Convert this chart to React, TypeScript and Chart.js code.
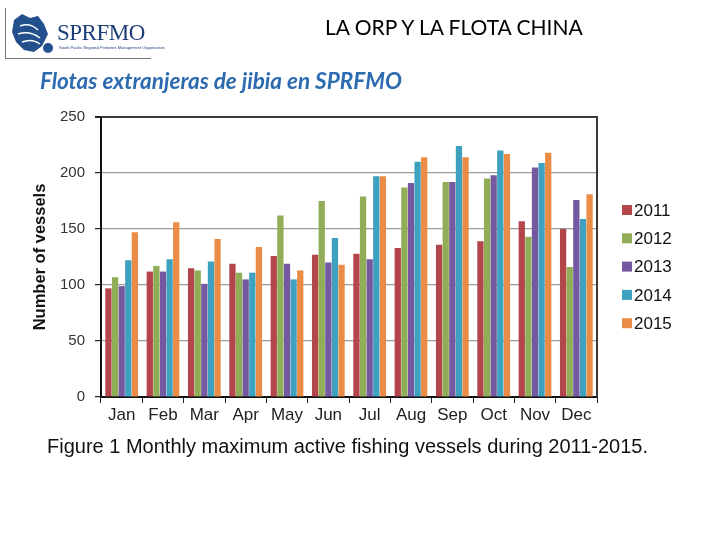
import React, { useEffect, useRef } from "react";
import { Chart, registerables } from "chart.js";
Chart.register(...registerables);

const months = ["Jan", "Feb", "Mar", "Apr", "May", "Jun", "Jul", "Aug", "Sep", "Oct", "Nov", "Dec"];
const years = ["2011", "2012", "2013", "2014", "2015"];
const v2011 = [97, 112, 115, 119, 126, 127, 128, 133, 136, 139, 157, 150];
const v2012 = [107, 117, 113, 111, 162, 175, 179, 187, 192, 195, 143, 116];
const v2013 = [99, 112, 101, 105, 119, 120, 123, 191, 192, 198, 205, 176];
const v2014 = [122, 123, 121, 111, 105, 142, 197, 210, 224, 220, 209, 159];
const v2015 = [147, 156, 141, 134, 113, 118, 197, 214, 214, 217, 218, 181];
const seriesValues = [v2011, v2012, v2013, v2014, v2015];
const seriesColors = ["#B2464A", "#92AD57", "#7559A0", "#3FA1C0", "#EA8C45"];
const yMin = 0;
const yMax = 250;
const yStep = 50;

const FONT = "'Liberation Sans', Arial, sans-serif";

const boxLegendPlugin = {
  id: "boxLegend",
  afterDraw(chart: any) {
    const { ctx, chartArea: a } = chart;
    ctx.save();
    ctx.strokeStyle = "#3a3a3a";
    ctx.lineWidth = 2;
    ctx.beginPath();
    ctx.moveTo(a.left, a.top);
    ctx.lineTo(a.right, a.top);
    ctx.lineTo(a.right, a.bottom);
    ctx.stroke();
    chart.data.datasets.forEach((ds: any, i: number) => {
      const y = 210 + i * 28.3;
      ctx.fillStyle = ds.backgroundColor;
      ctx.fillRect(622, y - 5, 10, 10);
      ctx.fillStyle = "#111";
      ctx.font = "17px " + FONT;
      ctx.textBaseline = "middle";
      ctx.textAlign = "left";
      ctx.fillText(ds.label, 634, y + 1);
    });
    ctx.restore();
  },
};

export default function App() {
  const ref = useRef<HTMLCanvasElement | null>(null);
  useEffect(() => {
    if (!ref.current) return;
    const chart = new Chart(ref.current, {
      type: "bar",
      data: {
        labels: months,
        datasets: years.map((y, i) => ({
          label: y,
          data: seriesValues[i],
          backgroundColor: seriesColors[i],
          borderWidth: 0,
          barPercentage: 0.95,
          categoryPercentage: 0.8,
        })),
      },
      options: {
        responsive: false,
        animation: false,
        layout: { padding: { top: 117, right: 123, left: 0, bottom: 0 } },
        plugins: { legend: { display: false }, tooltip: { enabled: false } },
        scales: {
          x: {
            afterFit: (s: any) => {
              s.height = 143;
            },
            grid: { drawOnChartArea: false, drawTicks: true, tickLength: 6, tickColor: "#222", offset: true },
            border: { color: "#111", width: 2 },
            ticks: { color: "#222", font: { family: FONT, size: 17 }, padding: 2, maxRotation: 0 },
          },
          y: {
            min: yMin,
            max: yMax,
            afterFit: (s: any) => {
              s.width = 101;
            },
            grid: {
              color: (c: any) => (c.tick && c.tick.value === yMax ? "#3a3a3a" : "#9a9a9a"),
              lineWidth: (c: any) => (c.tick && c.tick.value === yMax ? 2 : 1.2),
              tickLength: 6,
              tickColor: "#222",
            },
            border: { color: "#111", width: 2 },
            ticks: { stepSize: yStep, color: "#333", font: { family: FONT, size: 15 }, padding: 10 },
            title: {
              display: true,
              text: "Number of vessels",
              color: "#111",
              font: { family: FONT, size: 16.5, weight: "bold" },
              padding: { top: 31, bottom: 0 },
            },
          },
        },
      },
      plugins: [boxLegendPlugin],
    });
    return () => chart.destroy();
  }, []);

  return (
    <div style={{ position: "fixed", left: 0, top: 0, width: 720, height: 540, background: "#fff", overflow: "hidden" }}>
      <canvas ref={ref} width={720} height={540} style={{ position: "absolute", left: 0, top: 0 }} />
      <div
        style={{
          position: "absolute",
          left: 5,
          top: 8,
          width: 145,
          height: 50,
          borderLeft: "1px solid #777",
          borderBottom: "1px solid #777",
        }}
      >
        <svg width="46" height="44" style={{ position: "absolute", left: 2, top: 4 }} viewBox="0 0 46 44">
          <path d="M6 8 L14 2 L22 6 L30 4 L36 12 L40 22 L34 34 L26 40 L16 38 L8 30 L4 20 Z" fill="#234f8d" />
          <path d="M12 14 Q22 10 30 18" stroke="#fff" strokeWidth="1.5" fill="none" />
          <path d="M10 22 Q22 18 32 26" stroke="#fff" strokeWidth="1.5" fill="none" />
          <path d="M14 30 Q24 26 32 32" stroke="#fff" strokeWidth="1.5" fill="none" />
          <circle cx="40" cy="36" r="5" fill="#234f8d" />
        </svg>
        <div
          style={{
            position: "absolute",
            left: 51,
            top: 14,
            fontFamily: "'Liberation Serif', 'DejaVu Serif', serif",
            fontSize: 23,
            color: "#1c3d78",
            letterSpacing: -0.5,
            lineHeight: "22px",
          }}
        >
          SPRFMO
        </div>
        <div
          style={{
            position: "absolute",
            left: 53,
            top: 37,
            fontFamily: FONT,
            fontSize: 4,
            color: "#1c3d78",
            whiteSpace: "nowrap",
          }}
        >
          South Pacific Regional Fisheries Management Organisation
        </div>
      </div>
      <div
        style={{
          position: "absolute",
          left: 325,
          top: 14,
          fontFamily: "Lato, 'Open Sans', sans-serif",
          fontSize: 21,
          color: "#000",
          whiteSpace: "nowrap",
          lineHeight: "26px",
        }}
      >
        LA ORP Y LA FLOTA CHINA
      </div>
      <div
        style={{
          position: "absolute",
          left: 40,
          top: 67,
          fontFamily: "Lato, 'Open Sans', sans-serif",
          fontSize: 22.5,
          fontWeight: "bold",
          fontStyle: "italic",
          color: "#2c6bb0",
          whiteSpace: "nowrap",
          lineHeight: "28px",
        }}
      >
        Flotas extranjeras de jibia en SPRFMO
      </div>
      <div
        style={{
          position: "absolute",
          left: 47,
          top: 433,
          fontFamily: FONT,
          fontSize: 20,
          color: "#111",
          whiteSpace: "nowrap",
          lineHeight: "26px",
        }}
      >
        Figure 1 Monthly maximum active fishing vessels during 2011-2015.
      </div>
    </div>
  );
}
